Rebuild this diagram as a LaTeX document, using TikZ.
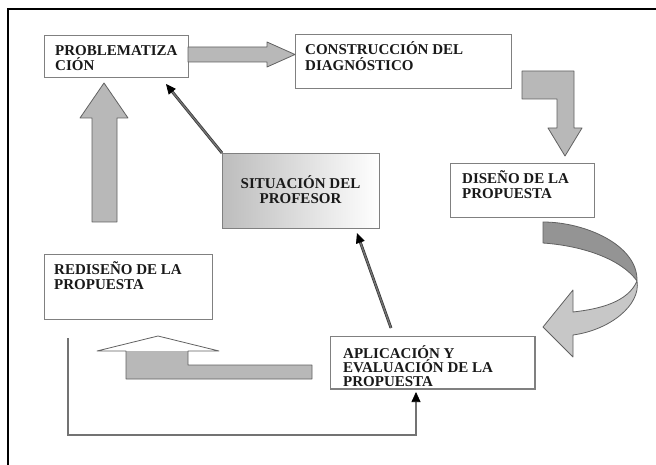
\documentclass[tikz,border=0pt]{standalone}
\usepackage{fontspec}
\setmainfont{Liberation Serif}
\usetikzlibrary{arrows.meta,calc}
\newcommand\firstln{\rule{0pt}{14.5pt}}
\begin{document}
\begin{tikzpicture}[x=1pt,y=-1pt,
  box/.style={draw=black!50, line width=1pt, fill=white, inner sep=0pt, anchor=north west},
  lbl/.style={anchor=north west, inner sep=0pt, align=left,
    font=\bfseries\fontsize{15}{15.5}\selectfont, text=black!90},
  blk/.style={fill=black!28, draw=black!62, line width=0.8pt, line join=round},
  conn/.style={line width=0.7pt, draw=black!80, double=black!55, double distance=1.4pt,
    -{Triangle[length=10pt,width=9pt,color=black]}},
]
\useasboundingbox (0,0) rectangle (656,465);
% frame
\draw[line width=1.8pt] (8,466) -- (8,9) -- (657,9);

% boxes
\node[box, minimum width=144pt, minimum height=42pt] (prob) at (44,35) {};
\node[box, minimum width=216pt, minimum height=54pt] (cons) at (295,34) {};
\node[box, minimum width=144pt, minimum height=54pt] (dis) at (450,163) {};
\node[box, minimum width=157pt, minimum height=75pt, fill=none,
      left color=black!26, middle color=black!4, right color=white] (sit) at (222,153) {};
\node[box, minimum width=168pt, minimum height=65pt] (redis) at (44,254) {};
\node[box, minimum width=204pt, minimum height=52pt] (aplic) at (330,336) {};

% texts
\node[lbl] (probt) at (55,40.5) {\firstln PROBLEMATIZA\\CIÓN};
\node[lbl] (const) at (305,40) {\firstln CONSTRUCCIÓN DEL\\DIAGNÓSTICO};
\node[lbl] (dist) at (462,168.5) {\firstln DISEÑO DE LA\\PROPUESTA};
\node[lbl] (redist) at (54,259.5) {\firstln REDISEÑO DE LA\\PROPUESTA};
\node[lbl, anchor=north, align=center] (sitt) at (300.5,173.5) {\firstln SITUACIÓN DEL\\PROFESOR};
\begin{scope}
  \clip (330.5,336.5) rectangle (533.5,387.5);
  \node[lbl, font=\bfseries\fontsize{15}{14}\selectfont] (aplict) at (343,343.5)
    {\firstln APLICACIÓN Y\\EVALUACIÓN DE LA\\PROPUESTA};
\end{scope}
\draw[draw=black!50, line width=1pt] (aplic.north west) rectangle (aplic.south east);

% block arrows
\draw[blk] (188,47) -- (267,47) -- (267,42) -- (295,54.5) -- (267,67) -- (267,62) -- (188,62) -- cycle;
\draw[blk] (522,71) -- (574,71) -- (574,128) -- (582,128) -- (565,156) -- (548,128)
  -- (557,128) -- (557,99) -- (522,99) -- cycle;
\draw[blk] (92,222) -- (92,118) -- (80,118) -- (104,83) -- (128,118) -- (117,118) -- (117,222) -- cycle;
\fill[black!28] (126,379) -- (126,351) -- (188,351) -- (188,365) -- (312,365) -- (312,379) -- cycle;
\draw[blk, fill=none] (126,379) -- (126,351) -- (97,351) -- (158,336) -- (219,351) -- (188,351)
  -- (188,365) -- (312,365) -- (312,379) -- cycle;

% curved ribbon arrow
\draw[blk, fill=black!42] (543,222) .. controls (585,222) and (638,245) .. (637,281)
  .. controls (622,260) and (585,246) .. (543,243) -- cycle;
\draw[blk, fill=black!22] (637,281) .. controls (641,305) and (610,330) .. (573,335)
  -- (573,357) -- (543,327) -- (573,290) -- (573,312)
  .. controls (600,309) and (628,302) .. (637,281) -- cycle;

% thin connectors
\coordinate (t1) at ($(prob.south east)+(-23,6)$);
\draw[conn] (sit.north west) -- (t1);
\coordinate (s2) at ($(aplic.north west)+(61,-8)$);
\coordinate (t2) at ($(sit.south west)+(135,4)$);
\draw[conn] (s2) -- (t2);
\coordinate (b0) at ($(redis.south west)+(24,18)$);
\coordinate (t3) at ($(aplic.south west)+(86,3)$);
\draw[conn] (b0) -- (68,435) -- (416,435) -- (t3);
\end{tikzpicture}
\end{document}
